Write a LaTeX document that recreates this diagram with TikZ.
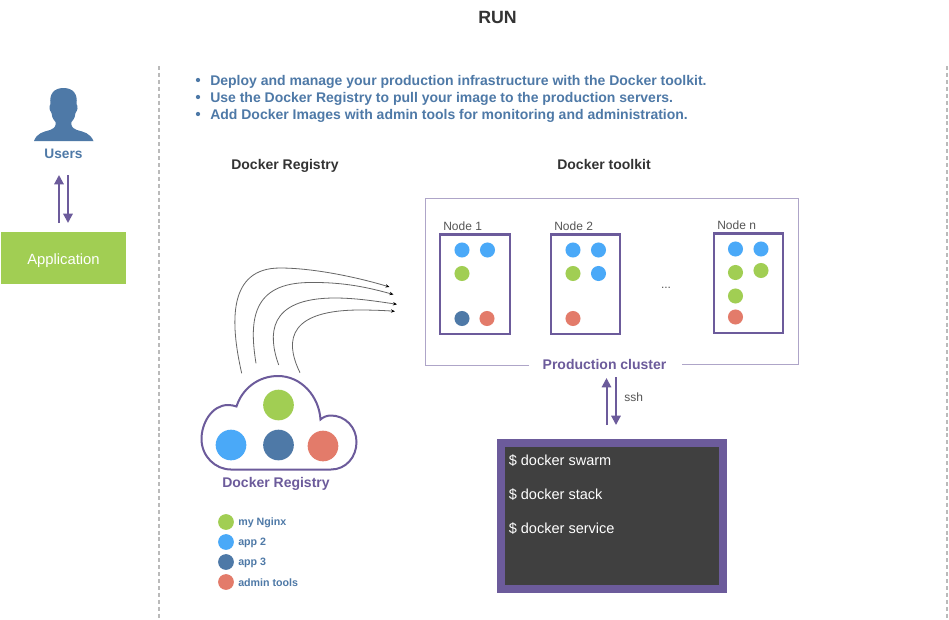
\documentclass[tikz,border=0pt]{standalone}
\usepackage{fontspec}
\setmainfont{Liberation Sans}
\usetikzlibrary{arrows.meta}
\definecolor{steel}{HTML}{4E79A7}
\definecolor{violet}{HTML}{6C5B9B}
\definecolor{leaf}{HTML}{A1CE53}
\definecolor{sky}{HTML}{4AA9F8}
\definecolor{coral}{HTML}{E37B6A}
\definecolor{ink}{HTML}{333333}
\definecolor{soft}{HTML}{555555}
\definecolor{term}{HTML}{404040}
\tikzset{
  x=0.75pt,y=-0.75pt,
  sep/.style={draw=black!27,line width=1.5pt,dash pattern=on 3pt off 2.2pt},
  dualarrow/.style={draw=violet,line width=1.5pt,-{Triangle[length=7pt,width=7pt]}},
  wire/.style={draw=black!60,line width=0.6pt,-{Stealth[length=3pt,width=2.5pt,black]}},
  hostbox/.style={draw=violet,line width=1.7pt},
  dot/.style={circle,inner sep=0pt,minimum size=11.3pt,fill=#1},
  bigdot/.style={circle,inner sep=0pt,minimum size=23pt,fill=#1},
  legdot/.style={circle,inner sep=0pt,minimum size=11.8pt,fill=#1},
  lab/.style={inner sep=0pt,font=\fontsize{10.5pt}{12pt}\selectfont\bfseries,text=ink},
  vlab/.style={inner sep=0pt,font=\fontsize{10.5pt}{12pt}\selectfont\bfseries,text=violet},
  blab/.style={inner sep=0pt,font=\fontsize{10.5pt}{12pt}\selectfont\bfseries,text=steel,anchor=west},
  leglab/.style={inner sep=0pt,font=\fontsize{8pt}{9pt}\selectfont\bfseries,text=steel,anchor=west},
  small/.style={inner sep=0pt,font=\fontsize{9pt}{10pt}\selectfont,text=soft},
  termtxt/.style={inner sep=0pt,font=\fontsize{10.9pt}{12pt}\selectfont,text=white,anchor=west},
}
\begin{document}
\begin{tikzpicture}
\useasboundingbox (0,0) rectangle (949,619);
\fill[white] (0,0) rectangle (949,619);
\node[lab,font=\fontsize{13.3pt}{15pt}\selectfont\bfseries] (title) at (497.5,17) {RUN};
% separators
\draw[sep] (159,66) -- (159,619);
\draw[sep] (947,66) -- (947,619);
% user icon
\fill[steel] (34,141) .. controls (37,133) and (43,132) .. (50,130)
  .. controls (55,128) and (56,126) .. (55.5,122)
  .. controls (52,118) and (52,116) .. (51.5,113)
  .. controls (49.5,110) and (48.5,107) .. (50.5,104)
  .. controls (49,94) and (54,88) .. (63.5,88)
  .. controls (73,88) and (78,94) .. (76.5,104)
  .. controls (78.5,107) and (77.5,110) .. (75.5,113)
  .. controls (75,116) and (75,118) .. (71.5,122)
  .. controls (71,126) and (72,128) .. (77,130)
  .. controls (84,132) and (90,133) .. (93.5,141) -- cycle;
\node[inner sep=0pt,font=\fontsize{10.3pt}{12pt}\selectfont\bfseries,text=steel] (users) at (63.5,154) {Users};
\node[fill=leaf,text=white,inner sep=0pt,minimum width=93.75pt,minimum height=39pt] (app) at (63.5,258) {};
\node[inner sep=0pt,text=white,font=\fontsize{11.1pt}{12pt}\selectfont] (applab) at (63.5,261) {Application};
\coordinate (ua1) at (59,223); \coordinate (ua2) at (59,175);
\coordinate (ub1) at (68,175); \coordinate (ub2) at (68,223);
\draw[dualarrow] (ua1) -- (ua2);
\draw[dualarrow] (ub1) -- (ub2);
% bullets
\foreach \yy/\tt in {80/Deploy and manage your production infrastructure with the Docker toolkit.,97/Use the Docker Registry to pull your image to the production servers.,114/Add Docker Images with admin tools for monitoring and administration.}{
  \fill[steel] (198,\yy) circle (1.6pt);
  \node[blab] at (210,\yy+1.5) {\tt};
}
\node[lab] (h1) at (285,166) {Docker Registry};
\node[lab] (h2) at (604,164) {Docker toolkit};
% cluster
\draw[draw=violet!55,line width=0.75pt] (529,365.5) -- (425.5,365.5) -- (425.5,198.5) -- (798,198.5) -- (798,364.5) -- (682,364.5);
\node[vlab] (prod) at (604.5,364) {Production cluster};
% hosts
\draw[hostbox] (440,234.5) rectangle (510,334);
\draw[hostbox] (551,234.5) rectangle (620,334);
\draw[hostbox] (714,233.5) rectangle (783,333);
\node[small,anchor=west] (n1) at (443,226) {Node 1};
\node[small,anchor=west] (n2) at (554,226) {Node 2};
\node[small,anchor=west] (nn) at (717,225) {Node n};
\node[small] (dots) at (666,288) {...};
\foreach \px/\py/\cc in {462/250/sky,487.5/250/sky,462/273.5/leaf,462/318.5/steel,487/318.5/coral,
  573/250/sky,598.5/250/sky,573/273.5/leaf,598.5/273.5/sky,573/318.5/coral,
  735.5/249/sky,761/249/sky,735.5/272.5/leaf,761/270.5/leaf,735.5/296/leaf,735.5/317/coral}{
  \node[dot=\cc] at (\px,\py) {};
}
% cloud
\draw[draw=violet,line width=1.5pt,fill=white] (231,469.5) -- (331,469.5)
  .. controls (346,469.5) and (356.5,457) .. (356.5,442)
  .. controls (356.5,427) and (345,415.5) .. (331,415.5)
  .. controls (327,415.5) and (323,417) .. (320.5,419.5)
  .. controls (319,396) and (301,376) .. (278,376)
  .. controls (258,376) and (242,389) .. (236.5,406.5)
  .. controls (234,405.5) and (231,405) .. (228,405)
  .. controls (212,405) and (201.5,423) .. (201.5,439)
  .. controls (201.5,456) and (215,469.5) .. (231,469.5) -- cycle;
\node[bigdot=leaf] (c1) at (278.5,405) {};
\node[bigdot=sky] (c2) at (231,445) {};
\node[bigdot=steel] (c3) at (278.5,445) {};
\node[bigdot=coral] (c4) at (323,446) {};
\node[vlab] (reg) at (276,484) {Docker Registry};
% pull curves
\coordinate (p1) at (241.7,373.3); \coordinate (q1) at (389.5,287);
\coordinate (p2) at (256,363.3); \coordinate (q2) at (393.5,294.5);
\coordinate (p3) at (278.7,365); \coordinate (q3) at (397,304.3);
\coordinate (p4) at (300,372.7); \coordinate (q4) at (395,311.3);
\draw[wire] (p1) .. controls (230,322) and (228,268) .. (280,268) .. controls (315,268) and (360,278) .. (q1);
\draw[wire] (p2) .. controls (249,320) and (252,282.7) .. (310,282.5) .. controls (345,282) and (370,288) .. (q2);
\draw[wire] (p3) .. controls (268,335) and (267,298) .. (335,298) .. controls (355,298) and (375,301) .. (q3);
\draw[wire] (p4) .. controls (289,350) and (278,310) .. (360,310) .. controls (372,310) and (385,310.5) .. (q4);
% ssh
\coordinate (sa1) at (606.5,425); \coordinate (sa2) at (606.5,378);
\coordinate (sb1) at (616,377); \coordinate (sb2) at (616,425);
\draw[dualarrow] (sa1) -- (sa2);
\draw[dualarrow] (sb1) -- (sb2);
\node[small,anchor=west] (ssh) at (624,397) {ssh};
% terminal
\node[draw=violet,line width=6pt,fill=term,minimum width=166.5pt,minimum height=109.5pt,inner sep=0pt,anchor=north west] (terminal) at (497,439) {};
\node[termtxt] (t1) at (508.5,461) {\$ docker swarm};
\node[termtxt] (t2) at (508.5,495) {\$ docker stack};
\node[termtxt] (t3) at (508.5,529) {\$ docker service};
% legend
\node[legdot=leaf] (l1) at (226,522) {}; \node[leglab] (lt1) at (238,523) {my Nginx};
\node[legdot=sky] (l2) at (226,542) {}; \node[leglab] (lt2) at (238,543) {app 2};
\node[legdot=steel] (l3) at (226,562) {}; \node[leglab] (lt3) at (238,563) {app 3};
\node[legdot=coral] (l4) at (226,582) {}; \node[leglab] (lt4) at (238,582.5) {admin tools};
\end{tikzpicture}
\end{document}
